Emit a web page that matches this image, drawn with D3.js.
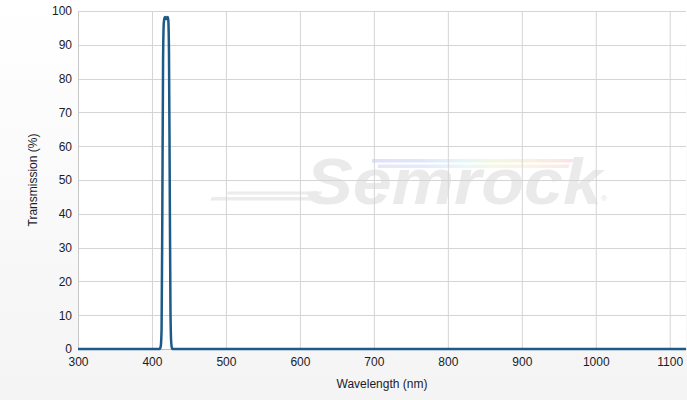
<!DOCTYPE html>
<html><head><meta charset="utf-8">
<script src="https://cdn.jsdelivr.net/npm/d3@7"></script>
<style>body{margin:0;padding:0;overflow:hidden}svg{display:block}</style>
</head><body>
<svg id="c" width="687" height="400"></svg>
<script>
const wavelength = [300, 410, 411, 412, 413, 414, 415, 416, 417, 418, 419, 420, 421, 422, 423, 424, 425, 426, 427, 428, 1122];
const transmission = [0, 0, 0.2, 1, 6, 40, 85, 96.5, 98, 98.2, 97.6, 97.8, 98.2, 97.5, 88, 50, 12, 2, 0.3, 0, 0];
const xTicks = [300, 400, 500, 600, 700, 800, 900, 1000, 1100];
const yTicks = [0, 10, 20, 30, 40, 50, 60, 70, 80, 90, 100];

const svg = d3.select("#c");
const W = 687, H = 400;
const m = {l: 78, r: 1, t: 11, b: 51};
const defs = svg.append("defs");
const g1 = defs.append("linearGradient").attr("id","bg").attr("x1",0).attr("y1",0).attr("x2",0).attr("y2",1);
g1.append("stop").attr("offset","0%").attr("stop-color","#ffffff");
g1.append("stop").attr("offset","100%").attr("stop-color","#f4f4f4");
const g2 = defs.append("linearGradient").attr("id","rb").attr("x1",0).attr("y1",0).attr("x2",1).attr("y2",0);
[["0%","#e0e0f8"],["25%","#dfe6fa"],["45%","#e4f6f6"],["60%","#f2f7e0"],["78%","#f9f0e0"],["100%","#f8e4e4"]].forEach(s=>g2.append("stop").attr("offset",s[0]).attr("stop-color",s[1]));

svg.append("rect").attr("width",W).attr("height",H).attr("fill","url(#bg)");

const x = d3.scaleLinear().domain([300,1122]).range([m.l, W-m.r]);
const y = d3.scaleLinear().domain([0,100]).range([H-m.b, m.t]);

svg.append("rect").attr("x",m.l).attr("y",m.t).attr("width",W-m.r-m.l).attr("height",H-m.b-m.t).attr("fill","#fff");

// watermark
const wm = svg.append("g");
wm.append("path").attr("d","M372,159 L574,159 L572,162.5 L372,162.5 Z").attr("fill","url(#rb)");
wm.append("path").attr("d","M378,164.5 L570,164.5 L568,168 L378,168 Z").attr("fill","url(#rb)").attr("opacity",0.8);
wm.append("path").attr("d","M212,197 L320,197 L318,200.5 L210,200.5 Z").attr("fill","#ececec");
wm.append("path").attr("d","M228,191.5 L322,191.5 L321,194.5 L227,194.5 Z").attr("fill","#ececec");
wm.append("text").attr("x",306).attr("y",204).attr("font-family","Liberation Sans, Arial, sans-serif")
  .attr("font-weight","bold").attr("font-style","italic").attr("font-size",64)
  .attr("textLength",296).attr("lengthAdjust","spacingAndGlyphs").attr("fill","#eaeaea").text("Semrock");
wm.append("text").attr("x",601).attr("y",201).attr("font-family","Liberation Sans, Arial, sans-serif")
  .attr("font-size",8).attr("fill","#e4e4e4").text("®");

// grid
svg.append("g").selectAll("line").data(xTicks).join("line")
  .attr("x1",d=>x(d)+0.5).attr("x2",d=>x(d)+0.5).attr("y1",m.t).attr("y2",H-m.b)
  .attr("stroke","#d4d4d4").attr("stroke-width",1);
svg.append("g").selectAll("line").data(yTicks).join("line")
  .attr("x1",m.l).attr("x2",W-m.r).attr("y1",d=>Math.round(y(d))+0.5).attr("y2",d=>Math.round(y(d))+0.5)
  .attr("stroke","#d4d4d4").attr("stroke-width",1);

// axes
const xa = svg.append("g").attr("transform",`translate(0,${H-m.b})`)
  .call(d3.axisBottom(x).tickValues(xTicks).tickFormat(d3.format("d")).tickSize(0).tickPadding(8));
xa.select(".domain").attr("stroke","#c0c0c0");
const ya = svg.append("g").attr("transform",`translate(${m.l},0)`)
  .call(d3.axisLeft(y).tickValues(yTicks).tickFormat(d3.format("d")).tickSize(0).tickPadding(6));
ya.select(".domain").attr("stroke","#c8c8c8");
svg.selectAll(".tick text").attr("font-family","Liberation Sans, Arial, sans-serif").attr("font-size",12).attr("fill","#1a1a2a");

// line
const data = wavelength.map((w,i)=>({w, t: transmission[i]}));
svg.append("path").datum(data)
  .attr("d", d3.line().x(d=>x(d.w)).y(d=>y(d.t)).curve(d3.curveMonotoneX))
  .attr("fill","none").attr("stroke","#1c5a88").attr("stroke-width",2.5).attr("stroke-linejoin","round");

// titles
svg.append("text").attr("x",(m.l+W-m.r)/2).attr("y",388).attr("text-anchor","middle")
  .attr("font-family","Liberation Sans, Arial, sans-serif").attr("font-size",12).attr("fill","#1a1a2a").text("Wavelength (nm)");
svg.append("text").attr("transform",`translate(37,${(m.t+H-m.b)/2}) rotate(-90)`).attr("text-anchor","middle")
  .attr("font-family","Liberation Sans, Arial, sans-serif").attr("font-size",12).attr("fill","#1a1a2a").text("Transmission (%)");
</script>
</body></html>
